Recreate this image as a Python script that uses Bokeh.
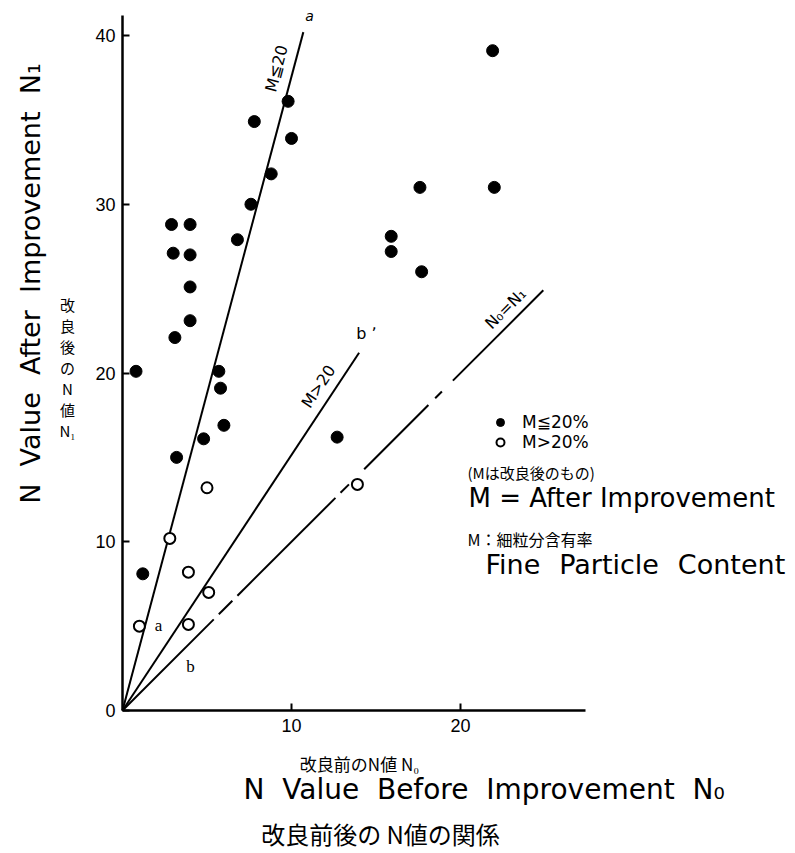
import math
from bokeh.plotting import figure
from bokeh.models import Range1d, Label, Legend, LegendItem, FixedTicker, LinearAxis
from bokeh.embed import file_html
from bokeh.resources import INLINE

# ---------------- data ----------------
# M <= 20 %  (filled circles)
filled_n0 = [0.8, 1.2, 2.9, 4.0, 3.0, 4.0, 4.0, 4.0, 3.1, 5.7, 5.8, 6.0, 4.8, 3.2,
             6.8, 7.6, 7.8, 8.8, 9.8, 10.0, 12.7, 15.9, 15.9, 17.6, 17.7, 21.9, 22.0]
filled_n1 = [20.1, 8.1, 28.8, 28.8, 27.1, 27.0, 25.1, 23.1, 22.1, 20.1, 19.1, 16.9, 16.1, 15.0,
             27.9, 30.0, 34.9, 31.8, 36.1, 33.9, 16.2, 28.1, 27.2, 31.0, 26.0, 39.1, 31.0]
# M > 20 %  (open circles)
open_n0 = [1.0, 2.8, 3.9, 3.9, 5.1, 5.0, 13.9]
open_n1 = [5.0, 10.2, 8.2, 5.1, 7.0, 13.2, 13.4]

# reference lines
line_a_n0 = [0, 10.7]     # M <= 20
line_a_n1 = [0, 40.2]
line_b_n0 = [0, 14.0]     # M > 20
line_b_n1 = [0, 21.2]
# N0 = N1 line, drawn in pieces (broken / dash-dot in the original)
equal_start = [0.0, 5.7, 6.8, 12.9, 14.3, 18.5, 19.55]
equal_end = [5.4, 6.5, 12.6, 13.4, 18.1, 18.9, 24.9]

x_ticks = [10, 20]
y_ticks = [0, 10, 20, 30, 40]
x_axis_extent = (0, 27.4)
y_axis_extent = (0, 41.2)

# ---------------- layout ----------------
W, H = 793, 851
OX, OY = 122, 710          # canvas position of the origin
PX, PY = 16.9, 16.875      # pixels per unit

def gx(cx):
    return (cx - OX) / PX

def gy(cy):
    return (OY - cy) / PY

p = figure(width=W, height=H, output_backend="svg", toolbar_location=None, title=None,
           x_range=Range1d(gx(0), gx(W)), y_range=Range1d(gy(H), gy(0)),
           x_axis_location=None, y_axis_location=None,
           min_border_left=0, min_border_right=0, min_border_top=0, min_border_bottom=0)
p.outline_line_color = None
p.grid.visible = False
p.background_fill_color = "white"
p.border_fill_color = "white"

xax = LinearAxis(fixed_location=0, ticker=FixedTicker(ticks=x_ticks), bounds=x_axis_extent)
yax = LinearAxis(fixed_location=0, ticker=FixedTicker(ticks=y_ticks), bounds=y_axis_extent)
for ax in (xax, yax):
    ax.axis_line_width = 2.5
    ax.axis_line_color = "black"
    ax.major_tick_in = 7
    ax.major_tick_out = 0
    ax.major_tick_line_width = 2
    ax.major_tick_line_color = "black"
    ax.minor_tick_line_color = None
    ax.major_label_text_font = "Liberation Sans"
    ax.major_label_text_font_size = "18px"
    ax.major_label_text_color = "black"
xax.major_label_standoff = 8
yax.major_label_standoff = 7
p.add_layout(xax, "below")
p.add_layout(yax, "left")

# reference lines
p.line(line_a_n0, line_a_n1, line_color="black", line_width=2)
p.line(line_b_n0, line_b_n1, line_color="black", line_width=2)
p.segment(x0=equal_start, y0=equal_start, x1=equal_end, y1=equal_end,
          line_color="black", line_width=2)

# points
r_filled = p.scatter(filled_n0, filled_n1, size=12, marker="circle",
                     fill_color="black", line_color="black")
r_open = p.scatter(open_n0, open_n1, size=11, marker="circle",
                   fill_color="white", line_color="black", line_width=2)

legend = Legend(items=[LegendItem(label="M≦20%", renderers=[r_filled]),
                       LegendItem(label="M>20%", renderers=[r_open])],
                location=(490, H - 452), margin=0, padding=0, spacing=0,
                glyph_width=20, glyph_height=20, label_height=20, label_standoff=12,
                border_line_color=None, background_fill_alpha=0,
                label_text_font="DejaVu Sans", label_text_font_size="17px",
                label_text_color="black")
p.add_layout(legend)

LAT = "DejaVu Sans"
CJK = "Noto Sans CJK JP"
WIDE = "\u00a0" * 2
GAP = "\u2002\u2009"

def lab(x, y, text, size, font=LAT, align="center", angle=0.0, style="normal", lh=1.2):
    p.add_layout(Label(x=x, y=y, text=text, text_font=font, text_font_size=f"{size}px",
                       text_align=align, text_baseline="middle", angle=angle,
                       text_font_style=style, text_color="black", text_line_height=lh))

ang_a = math.atan2(line_a_n1[1] * PY, line_a_n0[1] * PX)
ang_b = math.atan2(line_b_n1[1] * PY, line_b_n0[1] * PX)
ang_e = math.atan2(equal_end[-1] * PY, equal_end[-1] * PX)

# line annotations
lab(gx(276), gy(68), "M≦20", 16, angle=ang_a)
lab(gx(318), gy(386), "M>20", 16, angle=ang_b)
lab(gx(505), gy(308), "N₀=N₁", 16, angle=ang_e)
lab(gx(309), gy(15), "a", 14, style="italic")
lab(gx(366), gy(333), "b ʼ", 16)
lab(gx(158), gy(625), "a", 17, font="Liberation Serif")
lab(gx(190), gy(666), "b", 17, font="Liberation Serif")

# axis titles
lab(gx(30), gy(283), WIDE.join(["N", "Value", "After", "Improvement", "N₁"]), 27, angle=math.pi / 2)
lab(gx(67), gy(367), "改\n良\n後\nの\nN\n値\nN₁", 15, font=CJK, lh=1.0)
lab(gx(359), gy(763), "改良前のN値 N₀", 17, font=CJK)
lab(gx(243), gy(789), WIDE.join(["N", "Value", "Before", "Improvement", "N₀"]), 28, align="left")
lab(gx(380), gy(833), "改良前後の N値の関係", 24, font=CJK)

# legend notes
lab(gx(467), gy(472), "(Mは改良後のもの)", 15, font=CJK, align="left")
lab(gx(468), gy(497), "M = After Improvement", 26, align="left")
lab(gx(467), gy(538), "M：細粒分含有率", 16, font=CJK, align="left")
lab(gx(485), gy(564), GAP.join(["Fine", "Particle", "Content"]), 27, align="left")

open("out.html", "w").write(file_html(p, INLINE))
